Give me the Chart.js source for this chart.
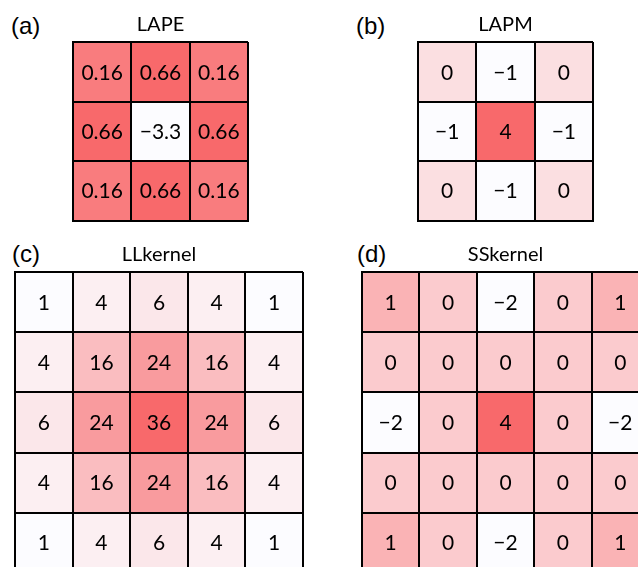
<!DOCTYPE html>
<html>
<head>
<meta charset="utf-8">
<script src="https://cdn.jsdelivr.net/npm/chart.js@4/dist/chart.umd.min.js"></script>
<style>
  html, body { margin: 0; padding: 0; background: #fff; overflow: hidden; }
  body { width: 638px; height: 567px; position: relative; }
  canvas { position: absolute; }
  .tag { position: absolute; font-family: "Liberation Sans", Arial, sans-serif; font-size: 24px; line-height: 24px; color: #000; }
</style>
</head>
<body>
<div class="tag" style="left:11px;top:14px">(a)</div>
<div class="tag" style="left:356px;top:14px">(b)</div>
<div class="tag" style="left:12px;top:242px">(c)</div>
<div class="tag" style="left:357px;top:242px">(d)</div>
<canvas id="lape" width="179" height="223" style="left:71px;top:0px"></canvas>
<canvas id="lapm" width="179" height="223" style="left:416px;top:0px"></canvas>
<canvas id="llk" width="296" height="345" style="left:9px;top:230px"></canvas>
<canvas id="ssk" width="302" height="345" style="left:349px;top:230px"></canvas>
<script>
// kernel values, row by row (top row first)
const lapeValues = [
  [0.16, 0.66, 0.16],
  [0.66, -3.3, 0.66],
  [0.16, 0.66, 0.16]
];
const lapmValues = [
  [0, -1, 0],
  [-1, 4, -1],
  [0, -1, 0]
];
const llkValues = [
  [1, 4, 6, 4, 1],
  [4, 16, 24, 16, 4],
  [6, 24, 36, 24, 6],
  [4, 16, 24, 16, 4],
  [1, 4, 6, 4, 1]
];
const sskValues = [
  [1, 0, -2, 0, 1],
  [0, 0, 0, 0, 0],
  [-2, 0, 4, 0, -2],
  [0, 0, 0, 0, 0],
  [1, 0, -2, 0, 1]
];

Chart.defaults.font.family = 'Lato, "Open Sans", sans-serif';
Chart.defaults.color = '#000';

// excel style white -> red colour scale
const lowCol = [252, 252, 255];
const highCol = [248, 105, 107];
function cellColor(v, lo, hi) {
  const t = hi === lo ? 0 : (v - lo) / (hi - lo);
  const c = lowCol.map((a, i) => Math.round(a + (highCol[i] - a) * t));
  return 'rgb(' + c.join(',') + ')';
}
function fmt(v) {
  return v < 0 ? '\u2212' + Math.abs(v) : String(v);
}

const cellText = {
  id: 'cellText',
  afterDraw(chart) {
    const ctx = chart.ctx;
    ctx.save();
    ctx.font = '21px Lato, "Open Sans", sans-serif';
    ctx.fillStyle = '#000';
    ctx.textAlign = 'center';
    ctx.textBaseline = 'middle';
    chart.data.datasets.forEach((ds, d) => {
      chart.getDatasetMeta(d).data.forEach((bar, i) => {
        const p = bar.getCenterPoint();
        ctx.fillText(fmt(ds.values[i]), p.x, p.y + 1);
      });
    });
    ctx.restore();
  }
};

function drawKernel(id, title, values, pad) {
  const n = values.length;
  const flat = values.flat();
  const lo = Math.min(...flat), hi = Math.max(...flat);
  const datasets = values.map((row, r) => ({
    values: row,
    data: row.map(() => [n - 1 - r, n - r]),
    backgroundColor: row.map(v => cellColor(v, lo, hi)),
    borderWidth: 0,
    grouped: false,
    barPercentage: 1,
    categoryPercentage: 1
  }));
  const lineOpts = { z: 1, color: '#000', lineWidth: 2, drawTicks: false };
  const borderOpts = { z: 1, display: true, color: '#000', width: 2 };
  return new Chart(document.getElementById(id), {
    type: 'bar',
    data: { labels: values[0].map((_, i) => String(i + 1)), datasets },
    options: {
      responsive: false,
      animation: false,
      devicePixelRatio: 1,
      layout: { padding: pad },
      plugins: {
        legend: { display: false },
        tooltip: { enabled: false },
        title: {
          display: true,
          text: title,
          font: { size: 20, weight: 'normal' },
          color: '#000',
          padding: { top: 13, bottom: 5 }
        }
      },
      scales: {
        x: {
          offset: true,
          grid: Object.assign({ offset: true }, lineOpts),
          border: borderOpts,
          ticks: { display: false }
        },
        y: {
          min: 0,
          max: n,
          grid: lineOpts,
          border: borderOpts,
          ticks: { display: false, stepSize: 1 }
        }
      }
    },
    plugins: [cellText]
  });
}

drawKernel('lape', 'LAPE', lapeValues, { left: 2, right: 2, top: 0, bottom: 2 });
drawKernel('lapm', 'LAPM', lapmValues, { left: 2, right: 2, top: 0, bottom: 2 });
drawKernel('llk', 'LLkernel', llkValues, { left: 6, right: 2, top: 0, bottom: 2 });
drawKernel('ssk', 'SSkernel', sskValues, { left: 13, right: 2, top: 0, bottom: 2 });
</script>
</body>
</html>
